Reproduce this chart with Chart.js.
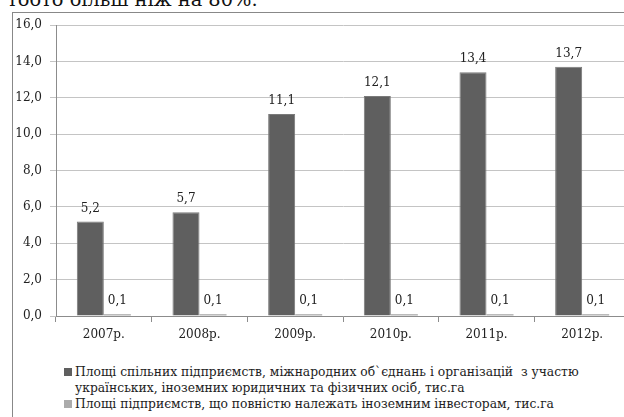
<!DOCTYPE html>
<html>
<head>
<meta charset="utf-8">
<script src="https://cdn.jsdelivr.net/npm/chart.js@4"></script>
<style>
  html, body { margin: 0; padding: 0; background: #fff; overflow: hidden; width: 624px; height: 417px; }
  body { position: relative; font-family: "DejaVu Serif", serif; color: #222; }
  #caption { position: absolute; left: 7px; top: -10px; font-size: 19.4px; line-height: 20px; white-space: nowrap; color: #111; }
  #frame { position: absolute; left: 12px; top: 12px; width: 700px; height: 500px; border: 1px solid #888; }
  #wrap { position: absolute; left: 0; top: 0; width: 640px; height: 350px; }
  #legend { position: absolute; left: 64px; top: 364px; font-size: 12.3px; line-height: 16px; }
  .item { position: relative; padding-left: 11px; white-space: pre; }
  .box { position: absolute; left: 0; top: 4px; width: 8px; height: 8px; }
</style>
</head>
<body>
<div id="caption">тобто більш ніж на 80%.</div>
<div id="frame"></div>
<div id="wrap"><canvas id="myChart" width="640" height="350"></canvas></div>
<div id="legend"></div>
<script>
var years = ['2007р.', '2008р.', '2009р.', '2010р.', '2011р.', '2012р.'];
var jointArea = [5.2, 5.7, 11.1, 12.1, 13.4, 13.7];
var foreignArea = [0.1, 0.1, 0.1, 0.1, 0.1, 0.1];
var yTicks = [0, 2, 4, 6, 8, 10, 12, 14, 16];
var seriesNames = [
    'Площі спільних підприємств, міжнародних об`єднань і організацій  з участю\nукраїнських, іноземних юридичних та фізичних осіб, тис.га',
    'Площі підприємств, що повністю належать іноземним інвесторам, тис.га'
];
var seriesColors = ['#5f5f5f', '#ababab'];
var serif = '"DejaVu Serif", serif';

function fmt(v) {
    return v.toFixed(1).replace('.', ',');
}

// value labels above every bar
var barLabels = {
    id: 'barLabels',
    afterDatasetsDraw: function (chart) {
        var ctx = chart.ctx;
        ctx.save();
        ctx.font = '12px ' + serif;
        ctx.fillStyle = '#222';
        ctx.textAlign = 'center';
        ctx.textBaseline = 'bottom';
        chart.data.datasets.forEach(function (ds, i) {
            chart.getDatasetMeta(i).data.forEach(function (bar, j) {
                ctx.fillText(fmt(ds.data[j]), bar.x, bar.y - 7);
            });
        });
        ctx.restore();
    }
};

function renderChart() {
    var ctx = document.getElementById('myChart').getContext('2d');
    var tickFont = { family: serif, size: 12 };
    new Chart(ctx, {
        type: 'bar',
        data: {
            labels: years,
            datasets: [{
                label: seriesNames[0],
                data: jointArea,
                backgroundColor: seriesColors[0],
                borderColor: '#7a7a7a',
                borderWidth: 1
            }, {
                label: seriesNames[1],
                data: foreignArea,
                backgroundColor: seriesColors[1],
                borderWidth: 0
            }]
        },
        options: {
            responsive: false,
            animation: false,
            layout: { padding: { top: 25, right: 10, left: 0, bottom: 0 } },
            datasets: { bar: { categoryPercentage: 0.565, barPercentage: 1 } },
            plugins: { legend: { display: false }, tooltip: { enabled: false } },
            scales: {
                x: {
                    grid: { offset: true, drawOnChartArea: false, tickLength: 6, color: '#8c8c8c' },
                    border: { color: '#8c8c8c' },
                    ticks: { font: tickFont, color: '#222', padding: 6, maxRotation: 0 },
                    afterFit: function (scale) { scale.height = 34; }
                },
                y: {
                    min: 0,
                    max: 16,
                    afterBuildTicks: function (scale) {
                        scale.ticks = yTicks.map(function (v) { return { value: v }; });
                    },
                    grid: { color: '#c4c4c4', tickLength: 6 },
                    border: { color: '#8c8c8c' },
                    ticks: { font: tickFont, color: '#222', padding: 8, callback: function (v) { return fmt(v); } },
                    afterFit: function (scale) { scale.width = 56; }
                }
            }
        },
        plugins: [barLabels]
    });
}

function renderLegend() {
    var box = document.getElementById('legend');
    seriesNames.forEach(function (name, i) {
        var item = document.createElement('div');
        item.className = 'item';
        var sq = document.createElement('span');
        sq.className = 'box';
        sq.style.background = seriesColors[i];
        item.appendChild(sq);
        item.appendChild(document.createTextNode(name));
        box.appendChild(item);
    });
}

renderChart();
renderLegend();
</script>
</body>
</html>
